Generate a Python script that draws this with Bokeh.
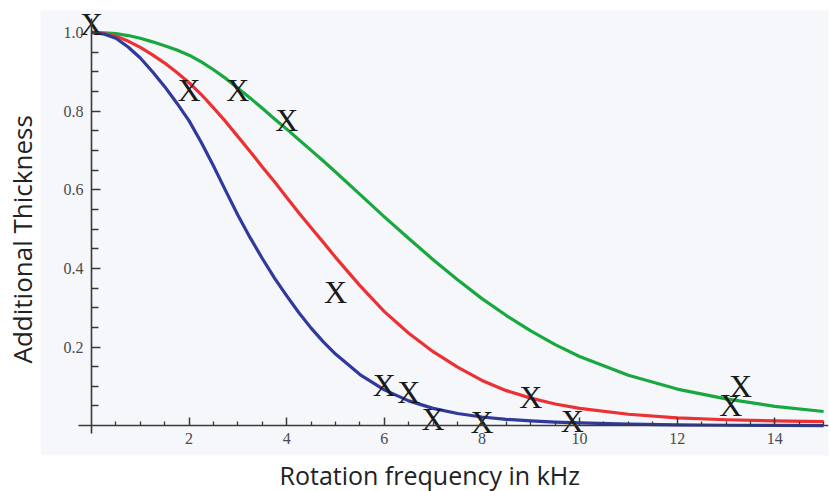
from bokeh.plotting import figure
from bokeh.models import FixedTicker, Title, Range1d, ColumnDataSource, NumeralTickFormatter
from bokeh.core.properties import value
from bokeh.embed import file_html
from bokeh.resources import INLINE

# ---- data ----
khz = [0, 0.25, 0.5, 0.75, 1, 1.25, 1.5, 1.75, 2, 2.25, 2.5, 2.75, 3, 3.25,
       3.5, 3.75, 4, 4.25, 4.5, 4.75, 5, 5.5, 6, 6.5, 7, 7.5, 8, 8.5, 9,
       9.5, 10, 11, 12, 13, 14, 15]
blue = [1.0, 0.996, 0.985, 0.963, 0.935, 0.90, 0.862, 0.82, 0.775, 0.72,
        0.66, 0.597, 0.535, 0.478, 0.425, 0.375, 0.33, 0.287, 0.248, 0.213,
        0.182, 0.13, 0.091, 0.063, 0.044, 0.031, 0.022, 0.016, 0.012, 0.009,
        0.007, 0.004, 0.002, 0.001, 0.0005, 0.0]
red = [1.0, 0.997, 0.99, 0.978, 0.962, 0.943, 0.922, 0.898, 0.872, 0.842,
       0.808, 0.773, 0.735, 0.697, 0.658, 0.62, 0.58, 0.541, 0.503, 0.466,
       0.428, 0.356, 0.29, 0.235, 0.188, 0.149, 0.115, 0.089, 0.07, 0.055,
       0.044, 0.029, 0.02, 0.015, 0.012, 0.01]
green = [1.0, 0.999, 0.997, 0.992, 0.985, 0.976, 0.966, 0.955, 0.942, 0.925,
         0.905, 0.883, 0.858, 0.833, 0.807, 0.78, 0.754, 0.727, 0.70, 0.673,
         0.645, 0.588, 0.531, 0.476, 0.422, 0.371, 0.323, 0.28, 0.241, 0.206,
         0.176, 0.128, 0.093, 0.068, 0.049, 0.036]

mark_x = [0, 2, 3, 4, 5, 6, 6.5, 7, 8, 9, 9.85, 13.1, 13.3]
mark_y = [1.022, 0.853, 0.853, 0.777, 0.339, 0.103, 0.085, 0.018, 0.009,
          0.073, 0.013, 0.052, 0.102]
mark_txt = ["X"] * len(mark_x)

x_ticks = [2, 4, 6, 8, 10, 12, 14]
x_minor = [0.5, 1, 1.5, 2.5, 3, 3.5, 4.5, 5, 5.5, 6.5, 7, 7.5, 8.5, 9, 9.5,
           10.5, 11, 11.5, 12.5, 13, 13.5, 14.5, 15]
y_ticks = [0.2, 0.4, 0.6, 0.8, 1.0]
y_minor = [0.05, 0.1, 0.15, 0.25, 0.3, 0.35, 0.45, 0.5, 0.55, 0.65, 0.7,
           0.75, 0.85, 0.9, 0.95]

x_label = "Rotation frequency in kHz"
y_label = "Additional Thickness"

p = figure(width=831, height=491, output_backend="svg", toolbar_location=None,
           x_range=Range1d(-1.045, 15.10), y_range=Range1d(-0.0759, 1.0557),
           min_border_left=40, min_border_right=3, min_border_top=10,
           min_border_bottom=29)
p.background_fill_color = "#f5f7fa"
p.border_fill_color = "white"
p.outline_line_color = None
p.grid.visible = False

for ax in (p.xaxis[0], p.yaxis[0]):
    ax.fixed_location = 0
    ax.axis_line_color = "#3a3a3a"
    ax.axis_line_width = 1.6
    ax.major_tick_line_color = "#3a3a3a"
    ax.minor_tick_line_color = "#3a3a3a"
    ax.major_tick_line_width = 1.5
    ax.minor_tick_line_width = 1.3
    ax.major_tick_out = 0
    ax.minor_tick_out = 0
    ax.major_label_text_font = "Liberation Serif"
    ax.major_label_text_font_size = "16px"
    ax.major_label_text_color = "#4a4a4a"

p.xaxis.ticker = FixedTicker(ticks=x_ticks, minor_ticks=x_minor)
p.yaxis.ticker = FixedTicker(ticks=y_ticks, minor_ticks=y_minor)
p.yaxis.formatter = NumeralTickFormatter(format="0.0")
p.xaxis.bounds = (-0.27, 15.1)
p.yaxis.bounds = (-0.02, 1.035)
p.xaxis.major_tick_in = 8
p.xaxis.minor_tick_in = 4
p.yaxis.major_tick_in = 9
p.yaxis.minor_tick_in = 7
p.xaxis.major_label_standoff = 7
p.yaxis.major_label_standoff = 8

src = ColumnDataSource(dict(x=khz, b=blue, r=red, g=green))
p.line("x", "g", source=src, line_color="#19a83f", line_width=3.2, line_join="round")
p.line("x", "r", source=src, line_color="#ec3033", line_width=3.2, line_join="round")
p.line("x", "b", source=src, line_color="#2f3a9c", line_width=3.2, line_join="round")

msrc = ColumnDataSource(dict(x=mark_x, y=mark_y, t=mark_txt))
p.text("x", "y", text="t", source=msrc, text_font=value("Liberation Serif"),
       text_font_size="32px", text_color="#1a1a1a", text_align="center",
       text_baseline="middle")

p.add_layout(Title(text=y_label, align="left", offset=92, text_font="Open Sans",
                   text_font_size="26px", text_font_style="normal",
                   text_color="#222222", standoff=1), "left")
p.add_layout(Title(text=x_label, align="left", offset=239, text_font="Open Sans",
                   text_font_size="25px", text_font_style="normal",
                   text_color="#222222", standoff=0), "below")

open("out.html", "w").write(file_html(p, INLINE))
